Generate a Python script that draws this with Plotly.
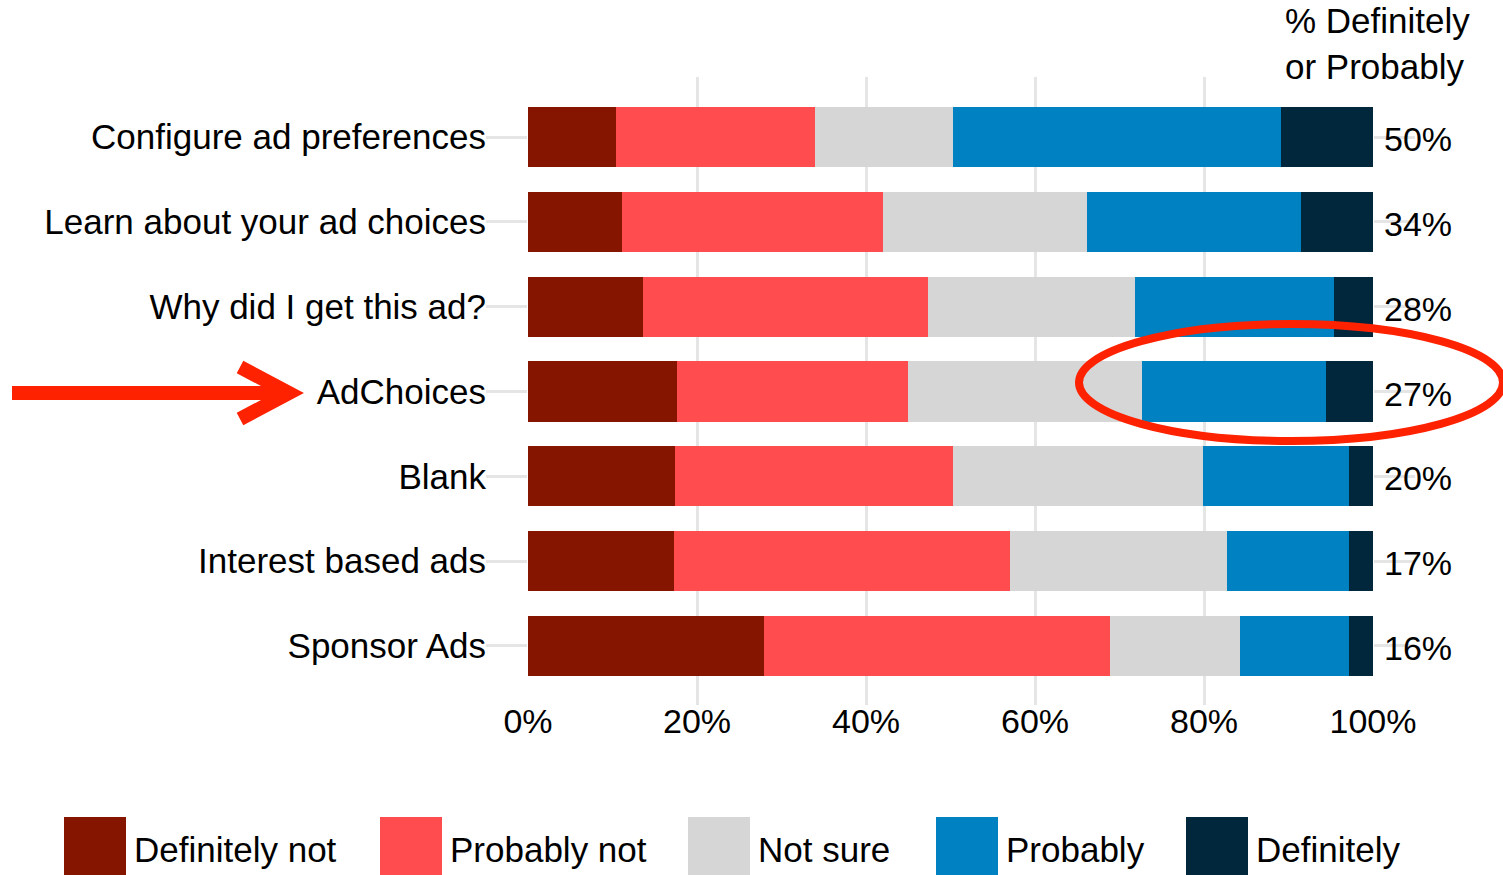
import plotly.graph_objects as go

categories = ["Configure ad preferences", "Learn about your ad choices", "Why did I get this ad?",
              "AdChoices", "Blank", "Interest based ads", "Sponsor Ads"]
definitely_not = [10.4, 11.1, 13.6, 17.6, 17.4, 17.3, 27.9]
probably_not   = [23.6, 30.9, 33.7, 27.4, 32.9, 39.7, 41.0]
not_sure       = [16.3, 24.2, 24.5, 27.7, 29.6, 25.7, 15.4]
probably       = [38.8, 25.3, 23.6, 21.7, 17.3, 14.5, 12.9]
definitely     = [10.9, 8.5, 4.6, 5.6, 2.8, 2.8, 2.8]
def_or_prob_labels = ["50%", "34%", "28%", "27%", "20%", "17%", "16%"]
series_names = ["Definitely not", "Probably not", "Not sure", "Probably", "Definitely"]
x_ticks = [0, 20, 40, 60, 80, 100]
x_tick_labels = ["0%", "20%", "40%", "60%", "80%", "100%"]

colors = ["#861500", "#FF4D4F", "#D6D6D6", "#0081C1", "#00273C"]
FONT = "Liberation Sans, Arial, sans-serif"

W, H = 1503, 875
L, R, T, B = 528, 130, 77, 170
PW, PH = W - L - R, H - T - B


def px2x(px):
    return (px - L) / PW


def py2y(py):
    return (H - B - py) / PH


fig = go.Figure()
for name, vals, col in zip(series_names,
                           [definitely_not, probably_not, not_sure, probably, definitely], colors):
    fig.add_trace(go.Bar(y=categories, x=vals, orientation="h", name=name,
                         marker=dict(color=col, line=dict(width=0)), showlegend=False))

annotations = []
for cat, lab in zip(categories, def_or_prob_labels):
    annotations.append(dict(x=1, xref="paper", y=cat, yref="y", text=lab, showarrow=False,
                            xanchor="left", yanchor="middle", xshift=9, yshift=-2,
                            font=dict(size=34, color="black", family=FONT)))
annotations.append(dict(x=px2x(1283), xref="paper", y=py2y(44), yref="paper",
                        text="% Definitely<br>or Probably", showarrow=False, align="left",
                        xanchor="left", yanchor="middle",
                        font=dict(size=35, color="black", family=FONT)))

shapes = []
# custom legend
legend_swatch_x = [64, 380, 688, 936, 1186]
for sx, name, col in zip(legend_swatch_x, series_names, colors):
    shapes.append(dict(type="rect", xref="paper", yref="paper",
                       x0=px2x(sx), x1=px2x(sx + 62), y0=py2y(875), y1=py2y(817),
                       fillcolor=col, line=dict(width=0)))
    annotations.append(dict(x=px2x(sx + 68), xref="paper", y=py2y(849), yref="paper",
                            text=name, showarrow=False, xanchor="left", yanchor="middle",
                            font=dict(size=35, color="black", family=FONT)))

# red arrow
red = "#FF2200"
shapes.append(dict(type="line", xref="paper", yref="paper",
                   x0=px2x(12), x1=px2x(284), y0=py2y(393), y1=py2y(393),
                   line=dict(color=red, width=14)))
shapes.append(dict(type="path", xref="paper", yref="paper",
                   path=f"M {px2x(240)} {py2y(367)} L {px2x(289)} {py2y(393)} L {px2x(240)} {py2y(419)}",
                   line=dict(color=red, width=14)))
# red ellipse
shapes.append(dict(type="circle", xref="paper", yref="paper",
                   x0=px2x(1079), x1=px2x(1503), y0=py2y(441), y1=py2y(324),
                   line=dict(color=red, width=8)))

fig.update_layout(
    barmode="stack", bargap=0.29,
    width=W, height=H,
    margin=dict(l=L, r=R, t=T, b=B, pad=0),
    paper_bgcolor="white", plot_bgcolor="white",
    font=dict(family=FONT, color="black"),
    annotations=annotations, shapes=shapes,
    xaxis=dict(range=[0, 100], tickvals=x_ticks, ticktext=x_tick_labels,
               showgrid=True, gridcolor="#E5E5E5", gridwidth=3,
               zeroline=False, showline=False, ticks="", ticklabelstandoff=-7,
               tickfont=dict(size=34, color="black", family=FONT)),
    yaxis=dict(categoryorder="array", categoryarray=categories, range=[6.696, -0.708],
               showgrid=False, zeroline=False, showline=False,
               ticks="outside", ticklen=41, tickwidth=3, tickcolor="#E5E5E5", mirror="ticks",
               ticklabelstandoff=-7,
               tickfont=dict(size=35, color="black", family=FONT)),
)

fig.write_html("out.html")
